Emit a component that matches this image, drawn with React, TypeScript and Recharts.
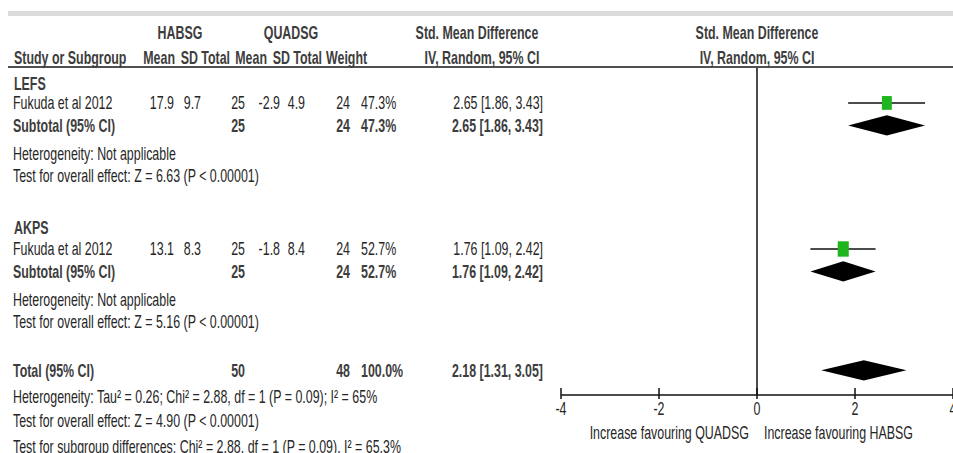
import { ScatterChart, Scatter, XAxis, YAxis, ErrorBar, ReferenceLine, ReferenceArea } from 'recharts';

// Study data
const subgroups = ['LEFS', 'AKPS'];
const studyNames = ['Fukuda et al 2012', 'Fukuda et al 2012'];
const habsgMean = [17.9, 13.1];
const habsgSD = [9.7, 8.3];
const habsgTotal = [25, 25];
const quadsgMean = [-2.9, -1.8];
const quadsgSD = [4.9, 8.4];
const quadsgTotal = [24, 24];
const weights = [47.3, 52.7];
const smd = [2.65, 1.76];
const ciLow = [1.86, 1.09];
const ciHigh = [3.43, 2.42];
const subgroupStats = [
  ['Heterogeneity: Not applicable', 'Test for overall effect: Z = 6.63 (P < 0.00001)'],
  ['Heterogeneity: Not applicable', 'Test for overall effect: Z = 5.16 (P < 0.00001)'],
];

const totalHabsg = 50;
const totalQuadsg = 48;
const totalWeight = 100;
const totalSmd = 2.18;
const totalLow = 1.31;
const totalHigh = 3.05;
const totalStats = [
  'Heterogeneity: Tau² = 0.26; Chi² = 2.88, df = 1 (P = 0.09); I² = 65%',
  'Test for overall effect: Z = 4.90 (P < 0.00001)',
  'Test for subgroup differences: Chi² = 2.88, df = 1 (P = 0.09), I² = 65.3%',
];

const xTicks = [-4, -2, 0, 2, 4];

// layout
const W = 953;
const H = 453;
const PLOT_TOP = 67;
const PLOT_BOTTOM = 395;
const PLOT_LEFT = 561;
const K_TOP = 0.4;
const K_BOTTOM = 15;
const FS = 18;
const SX = 0.69; // narrow font look
const FONT = '"Liberation Sans", Arial, sans-serif';

const lineY = (k: number) => PLOT_TOP + ((k - K_TOP) * (PLOT_BOTTOM - PLOT_TOP)) / (K_BOTTOM - K_TOP);

// table line index of each subgroup block
const blockLines = [
  { head: 1.15, study: 2, sub: 3, het: 4.25, test: 5.25 },
  { head: 7.55, study: 8.5, sub: 9.5, het: 10.75, test: 11.75 },
];
const totalLine = 13.9;
const totalStatLines = [15.05, 16.15, 17.3];

const fmtCI = (e: number, l: number, h: number) => `${e.toFixed(2)} [${l.toFixed(2)}, ${h.toFixed(2)}]`;

const Txt = ({ x, y, anchor = 'start', bold = false, children }: any) => (
  <text
    x={x / SX}
    y={y}
    dy="0.36em"
    textAnchor={anchor}
    fontWeight={bold ? 700 : 400}
    fill={bold ? '#3d3d3d' : '#262626'}
  >
    {children}
  </text>
);

const AxisTick = ({ x, y, payload }: any) => (
  <g>
    <line x1={x} x2={x} y1={y - 7} y2={y + 4} stroke="#111" strokeWidth={1.5} />
    <text
      transform={`translate(${x},${y + 14}) scale(${SX},1)`}
      textAnchor="middle"
      dy="0.36em"
      fontFamily={FONT}
      fontSize={FS}
      fill="#262626"
    >
      {payload.value}
    </text>
  </g>
);

const StudyBox = ({ cx, cy, payload }: any) => {
  const w = payload.w * 0.21;
  const h = w / 0.72;
  return <rect x={cx - w / 2} y={cy - h / 2} width={w} height={h} fill="#1fb51f" />;
};

const diamondShape = (est: number, low: number, high: number) => (p: any) => {
  const { x, y, width, height } = p;
  const cx = x + (width * (est - low)) / (high - low);
  const cy = y + height / 2;
  return (
    <polygon
      points={`${x},${cy} ${cx},${y} ${x + width},${cy} ${cx},${y + height}`}
      fill="#000"
    />
  );
};

const App = () => {
  const points = smd.map((v, i) => ({
    x: v,
    y: blockLines[i].study,
    err: [v - ciLow[i], ciHigh[i] - v],
    w: weights[i],
  }));

  const diamonds = [
    ...smd.map((v, i) => ({ est: v, low: ciLow[i], high: ciHigh[i], k: blockLines[i].sub })),
    { est: totalSmd, low: totalLow, high: totalHigh, k: totalLine },
  ];

  return (
    <div style={{ position: 'absolute', left: 0, top: 0, width: W, height: H, background: '#fff', overflow: 'hidden' }}>
      <ScatterChart width={W} height={H} margin={{ top: PLOT_TOP, right: 0, bottom: H - PLOT_BOTTOM - 30, left: PLOT_LEFT }}>
        <XAxis
          type="number"
          dataKey="x"
          domain={[-4, 4]}
          ticks={xTicks}
          interval={0}
          height={30}
          tickSize={0}
          tickMargin={0}
          axisLine={{ stroke: '#111', strokeWidth: 1.5 }}
          tick={<AxisTick />}
          allowDataOverflow
        />
        <YAxis type="number" dataKey="y" domain={[K_TOP, K_BOTTOM]} reversed hide width={0} allowDataOverflow />
        <ReferenceLine x={0} stroke="#111" strokeWidth={1.5} />
        {diamonds.map((d, i) => (
          <ReferenceArea
            key={`dia-${i}`}
            x1={d.low}
            x2={d.high}
            y1={d.k - 0.45}
            y2={d.k + 0.45}
            ifOverflow="visible"
            shape={diamondShape(d.est, d.low, d.high)}
          />
        ))}
        <Scatter data={points} shape={<StudyBox />} isAnimationActive={false}>
          <ErrorBar dataKey="err" direction="x" width={0} stroke="#111" strokeWidth={1.5} isAnimationActive={false} />
        </Scatter>
      </ScatterChart>

      <svg width={W} height={H} style={{ position: 'absolute', left: 0, top: 0, pointerEvents: 'none' }}>
        <rect x={8} y={11} width={W - 8} height={5} fill="#dcdcdc" />
        <line x1={8} x2={W} y1={PLOT_TOP} y2={PLOT_TOP} stroke="#505050" strokeWidth={2} />
        <g transform={`scale(${SX},1)`} fontFamily={FONT} fontSize={FS}>
          {/* header */}
          <Txt x={180} y={lineY(-1.15)} anchor="middle" bold>HABSG</Txt>
          <Txt x={291} y={lineY(-1.15)} anchor="middle" bold>QUADSG</Txt>
          <Txt x={477} y={lineY(-1.15)} anchor="middle" bold>Std. Mean Difference</Txt>
          <Txt x={757} y={lineY(-1.15)} anchor="middle" bold>Std. Mean Difference</Txt>
          <Txt x={14} y={lineY(0)} bold>Study or Subgroup</Txt>
          <Txt x={175} y={lineY(0)} anchor="end" bold>Mean</Txt>
          <Txt x={198} y={lineY(0)} anchor="end" bold>SD</Txt>
          <Txt x={230} y={lineY(0)} anchor="end" bold>Total</Txt>
          <Txt x={267} y={lineY(0)} anchor="end" bold>Mean</Txt>
          <Txt x={290} y={lineY(0)} anchor="end" bold>SD</Txt>
          <Txt x={322} y={lineY(0)} anchor="end" bold>Total</Txt>
          <Txt x={326} y={lineY(0)} bold>Weight</Txt>
          <Txt x={482} y={lineY(0)} anchor="middle" bold>IV, Random, 95% CI</Txt>
          <Txt x={757} y={lineY(0)} anchor="middle" bold>IV, Random, 95% CI</Txt>

          {subgroups.map((g, i) => {
            const b = blockLines[i];
            return (
              <g key={g}>
                <Txt x={14} y={lineY(b.head)} bold>{g}</Txt>
                <Txt x={13} y={lineY(b.study)}>{studyNames[i]}</Txt>
                <Txt x={174} y={lineY(b.study)} anchor="end">{habsgMean[i]}</Txt>
                <Txt x={201} y={lineY(b.study)} anchor="end">{habsgSD[i]}</Txt>
                <Txt x={245} y={lineY(b.study)} anchor="end">{habsgTotal[i]}</Txt>
                <Txt x={280} y={lineY(b.study)} anchor="end">{quadsgMean[i]}</Txt>
                <Txt x={305} y={lineY(b.study)} anchor="end">{quadsgSD[i]}</Txt>
                <Txt x={350} y={lineY(b.study)} anchor="end">{quadsgTotal[i]}</Txt>
                <Txt x={361} y={lineY(b.study)}>{weights[i].toFixed(1)}%</Txt>
                <Txt x={543} y={lineY(b.study)} anchor="end">{fmtCI(smd[i], ciLow[i], ciHigh[i])}</Txt>
                <Txt x={13} y={lineY(b.sub)} bold>Subtotal (95% CI)</Txt>
                <Txt x={245} y={lineY(b.sub)} anchor="end" bold>{habsgTotal[i]}</Txt>
                <Txt x={350} y={lineY(b.sub)} anchor="end" bold>{quadsgTotal[i]}</Txt>
                <Txt x={361} y={lineY(b.sub)} bold>{weights[i].toFixed(1)}%</Txt>
                <Txt x={543} y={lineY(b.sub)} anchor="end" bold>{fmtCI(smd[i], ciLow[i], ciHigh[i])}</Txt>
                <Txt x={13} y={lineY(b.het)}>{subgroupStats[i][0]}</Txt>
                <Txt x={13} y={lineY(b.test)}>{subgroupStats[i][1]}</Txt>
              </g>
            );
          })}

          <Txt x={13} y={lineY(totalLine)} bold>Total (95% CI)</Txt>
          <Txt x={245} y={lineY(totalLine)} anchor="end" bold>{totalHabsg}</Txt>
          <Txt x={350} y={lineY(totalLine)} anchor="end" bold>{totalQuadsg}</Txt>
          <Txt x={361} y={lineY(totalLine)} bold>{totalWeight.toFixed(1)}%</Txt>
          <Txt x={543} y={lineY(totalLine)} anchor="end" bold>{fmtCI(totalSmd, totalLow, totalHigh)}</Txt>
          {totalStats.map((s, i) => (
            <Txt key={s} x={13} y={lineY(totalStatLines[i])}>{s}</Txt>
          ))}

          <Txt x={749} y={433} anchor="end">Increase favouring QUADSG</Txt>
          <Txt x={764} y={433}>Increase favouring HABSG</Txt>
        </g>
      </svg>
    </div>
  );
};

export default App;
